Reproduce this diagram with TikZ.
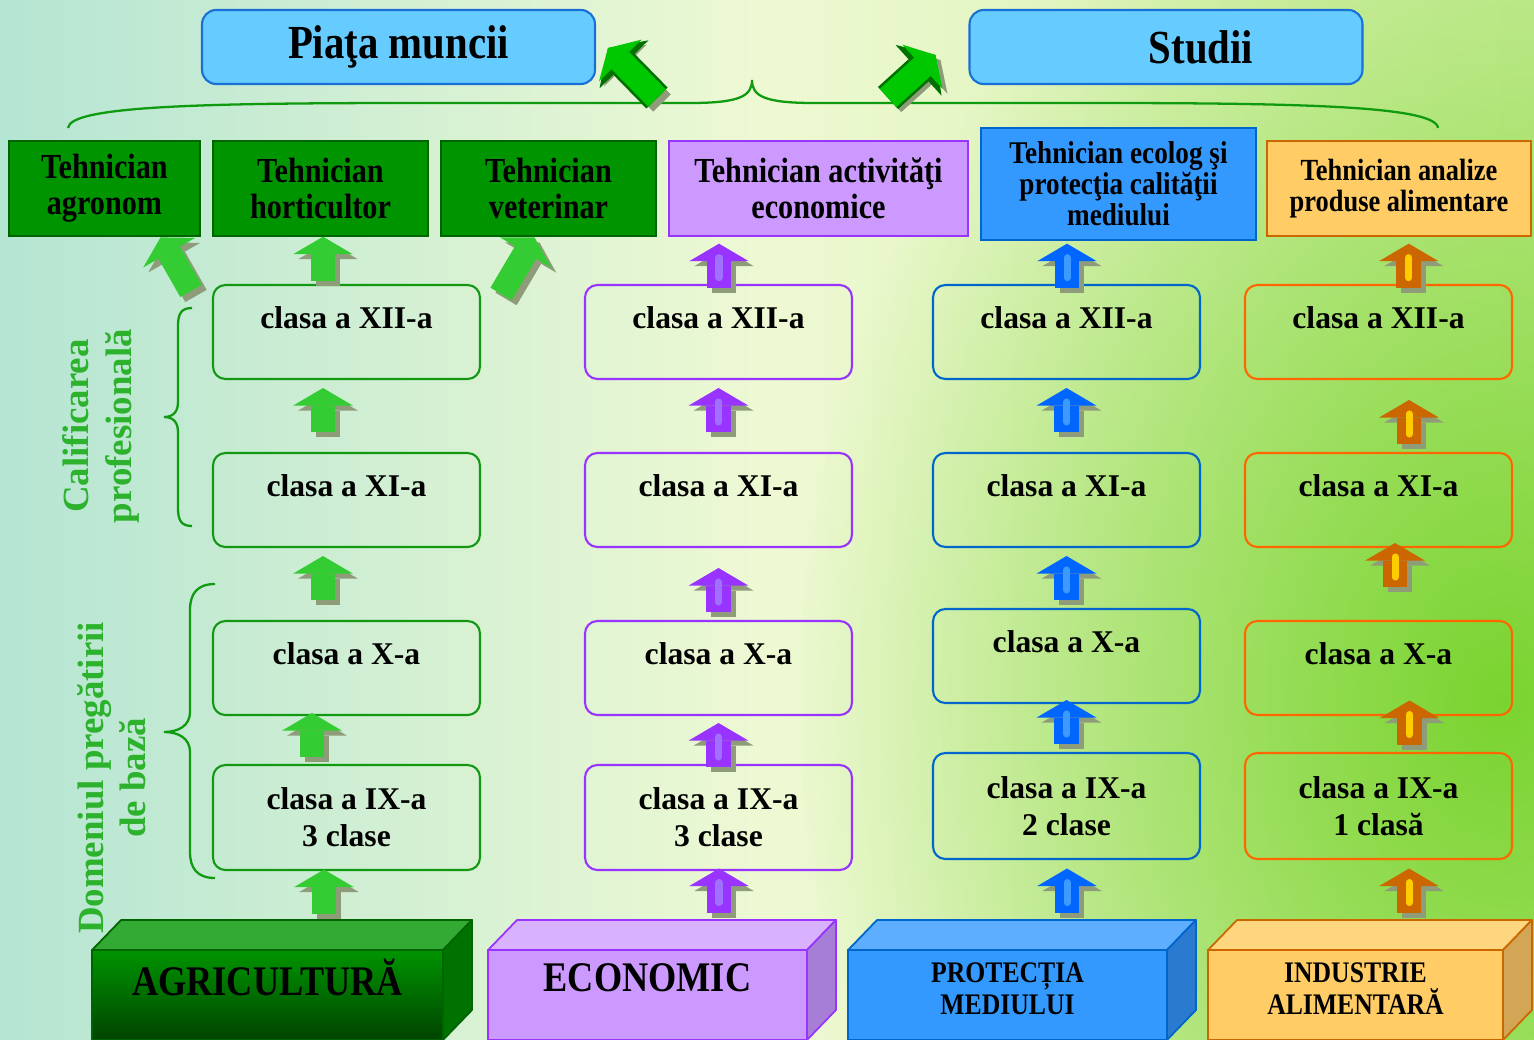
\documentclass[tikz,border=0pt]{standalone}
\usepackage{fontspec}
\setmainfont{Liberation Serif}
\newfontfamily\condfont{Liberation Serif}[FakeStretch=0.86]
\usetikzlibrary{arrows.meta,calc,fadings}

\definecolor{bgleft}{HTML}{B5E5D3}
\definecolor{bgmid}{HTML}{EEF9D3}
\definecolor{bgright}{HTML}{CDEE9F}
\definecolor{bggreen}{HTML}{7AD430}
\definecolor{skyblue}{HTML}{66CCFF}
\definecolor{boxblue}{HTML}{1A6FD6}
\definecolor{agrbox}{HTML}{009400}
\definecolor{agredge}{HTML}{006400}
\definecolor{agrline}{HTML}{119911}
\definecolor{agrarrow}{HTML}{33CC33}
\definecolor{agrhi}{HTML}{009400}
\definecolor{agrlo}{HTML}{004400}
\definecolor{agrtop}{HTML}{33AA33}
\definecolor{agrside}{HTML}{007200}
\definecolor{ecobox}{HTML}{CC99FF}
\definecolor{ecoedge}{HTML}{9933FF}
\definecolor{ecostripe}{HTML}{A070FF}
\definecolor{ecotop}{HTML}{D8B2FF}
\definecolor{ecoside}{HTML}{A77ED6}
\definecolor{envbox}{HTML}{3399FF}
\definecolor{envedge}{HTML}{0066CC}
\definecolor{envarrow}{HTML}{0066FF}
\definecolor{envstripe}{HTML}{3D9BFF}
\definecolor{envtop}{HTML}{5EAEFF}
\definecolor{envside}{HTML}{2A7BD0}
\definecolor{foodbox}{HTML}{FFCC66}
\definecolor{foodedge}{HTML}{CC6600}
\definecolor{foodline}{HTML}{FF6600}
\definecolor{foodarrow}{HTML}{CC6600}
\definecolor{foodstripe}{HTML}{FFCC00}
\definecolor{foodtop}{HTML}{FFD680}
\definecolor{foodside}{HTML}{D3A655}
\definecolor{lblgreen}{HTML}{2DB22D}
\definecolor{bracegreen}{HTML}{109A10}
\definecolor{linkgreen}{HTML}{00C800}
\definecolor{darkgreen}{HTML}{007000}
\definecolor{shadowgray}{HTML}{8F9C7A}

\tikzfading[name=glowfade, inner color=transparent!0, outer color=transparent!100]

% block arrow between two boxes: [shift]{lower}{upper}{colour}{stripe}
\newcommand\stepup[5][0,0]{%
  \coordinate (m) at ($(#2.north)!.5!(#3.south)+(#1)$);
  \draw[arrshadow] ($(m)+(5,27)$) -- ($(m)+(5,-17)$);
  \draw[blockarr,draw=#4] ($(m)+(0,22)$) -- ($(m)+(0,-22)$);
  \draw[line width=4pt,line cap=round,draw=#5] ($(m)+(0,12)$) -- ($(m)+(0,-8)$);}

% top and side faces of a sector block
\newcommand\prism[4]{%
  \filldraw[fill=#2,draw=#4,line width=1pt,line join=round] (#1.north west) -- ++(29,-30) -- ($(#1.north east)+(29,-30)$) -- (#1.north east) -- cycle;
  \filldraw[fill=#3,draw=#4,line width=1pt,line join=round] (#1.north east) -- ++(29,-30) -- ($(#1.south east)+(29,-30)$) -- (#1.south east) -- cycle;}

\begin{document}
\begin{tikzpicture}[x=0.02cm,y=-0.02cm]
  \tikzstyle{topbox}=[draw=boxblue,fill=skyblue,line width=1.2pt,rounded corners=8pt,minimum width=7.86cm,minimum height=1.48cm,font=\condfont\bfseries\fontsize{27}{30}\selectfont]
  \tikzstyle{job}=[draw,line width=1.6pt,align=center,minimum height=1.9cm,font=\condfont\bfseries\fontsize{20}{20.5}\selectfont]
  \tikzstyle{cls}=[draw,line width=1.2pt,rounded corners=7pt,align=center,minimum width=5.34cm,minimum height=1.88cm,font=\bfseries\fontsize{18}{21}\selectfont]
  \tikzstyle{one}=[text depth=16pt]
  \tikzstyle{sector}=[draw,line width=1pt,outer sep=0pt,inner sep=2pt,align=center,minimum height=1.8cm,font=\condfont\bfseries\fontsize{24}{26}\selectfont]
  \tikzstyle{small}=[font=\condfont\bfseries\fontsize{17}{18}\selectfont,text depth=7pt]
  \tikzstyle{side}=[rotate=90,align=center,text=lblgreen,font=\bfseries\fontsize{21}{24}\selectfont]
  \tikzstyle{brace}=[draw=bracegreen,line width=1.3pt]
  \tikzstyle{blockarr}=[line width=14pt,-{Triangle[width=34pt,length=10pt,line width=0pt]}]
  \tikzstyle{arrshadow}=[blockarr,draw=shadowgray]

  \useasboundingbox (0,0) rectangle (1534,1040);
  % background
  \shade[left color=bgleft,right color=bgright,middle color=bgmid] (0,0) rectangle (1534,1040);
  \fill[bggreen,path fading=glowfade] (1500,700) ellipse [x radius=14cm,y radius=18cm];

  % outcomes
  \node[topbox] (piata) at (398.5,47) {Piaţa muncii};
  \node[topbox] (studii) at (1166,47) {\hspace*{1.4cm}Studii};
  \draw[brace] (68,128) .. controls (70,106) and (200,103) .. (420,103) -- (690,103) .. controls (740,103) and (752,96) .. (752,80)
    .. controls (752,96) and (764,103) .. (814,103) -- (1090,103) .. controls (1300,103) and (1436,106) .. (1438,128);
  \coordinate (bl) at (657,98);
  \coordinate (br) at (888,98);
  \draw[arrshadow] ($(bl)+(5,5)$) -- ($(piata.east)+(17,6)$);
  \draw[blockarr,draw=darkgreen,line width=17pt,-{Triangle[width=39pt,length=13pt,line width=0pt]}] (bl) -- ($(piata.east)+(12,1)$);
  \draw[blockarr,draw=linkgreen] (bl) -- ($(piata.east)+(12,1)$);
  \draw[arrshadow] ($(br)+(5,5)$) -- ($(studii.west)+(-28,13)$);
  \draw[blockarr,draw=darkgreen,line width=17pt,-{Triangle[width=39pt,length=13pt,line width=0pt]}] (br) -- ($(studii.west)+(-33,8)$);
  \draw[blockarr,draw=linkgreen] (br) -- ($(studii.west)+(-33,8)$);

  % qualifications
  \node[job,fill=agrbox,draw=agredge,minimum width=3.82cm] (tagr) at (104.5,188.5) {Tehnician\\agronom};
  \node[job,fill=agrbox,draw=agredge,minimum width=4.3cm] (thort) at (320.5,188.5) {Tehnician\\horticultor};
  \node[job,fill=agrbox,draw=agredge,minimum width=4.3cm] (tvet) at (548.5,188.5) {Tehnician\\veterinar};
  \node[job,fill=ecobox,draw=ecoedge,minimum width=5.98cm] (teco) at (818.5,188.5) {Tehnician activităţi\\economice};
  \node[job,fill=envbox,draw=envedge,minimum width=5.5cm,minimum height=2.24cm,font=\condfont\bfseries\fontsize{18}{17.6}\selectfont] (tenv) at (1118.5,184) {Tehnician ecolog şi\\protecţia calităţii\\mediului};
  \node[job,fill=foodbox,draw=foodedge,minimum width=5.28cm,font=\condfont\bfseries\fontsize{17.5}{17.6}\selectfont] (tfood) at (1399,188.5) {Tehnician analize\\produse alimentare};

  % side labels
  \draw[brace] (192,308) .. controls (181,308) and (178,314) .. (178,326) -- (178,402) .. controls (178,412) and (173,417) .. (164,417)
    .. controls (173,417) and (178,422) .. (178,432) -- (178,508) .. controls (178,520) and (181,526) .. (192,526);
  \draw[brace] (215,584) .. controls (197,584) and (190,594) .. (190,610) -- (190,712) .. controls (190,726) and (178,732) .. (164,732)
    .. controls (178,732) and (190,738) .. (190,752) -- (190,852) .. controls (190,868) and (197,878) .. (215,878);
  \node[side] (calif) at (101,426) {Calificarea\\profesională};
  \node[side] (domen) at (112,778) {Domeniul pregătirii\\de bază};

  % classes
  \node[cls,draw=agrline,one] (c1xii) at (346.5,332) {clasa a XII-a};
  \node[cls,draw=agrline,one] (c1xi) at (346.5,500) {clasa a XI-a};
  \node[cls,draw=agrline,one] (c1x) at (346.5,668) {clasa a X-a};
  \node[cls,draw=agrline,minimum height=2.1cm] (c1ix) at (346.5,817.5) {clasa a IX-a\\3 clase};
  \node[cls,draw=ecoedge,one] (c2xii) at (718.5,332) {clasa a XII-a};
  \node[cls,draw=ecoedge,one] (c2xi) at (718.5,500) {clasa a XI-a};
  \node[cls,draw=ecoedge,one] (c2x) at (718.5,668) {clasa a X-a};
  \node[cls,draw=ecoedge,minimum height=2.1cm] (c2ix) at (718.5,817.5) {clasa a IX-a\\3 clase};
  \node[cls,draw=envedge,one] (c3xii) at (1066.5,332) {clasa a XII-a};
  \node[cls,draw=envedge,one] (c3xi) at (1066.5,500) {clasa a XI-a};
  \node[cls,draw=envedge,one] (c3x) at (1066.5,656) {clasa a X-a};
  \node[cls,draw=envedge,minimum height=2.12cm] (c3ix) at (1066.5,806) {clasa a IX-a\\2 clase};
  \node[cls,draw=foodline,one] (c4xii) at (1378.5,332) {clasa a XII-a};
  \node[cls,draw=foodline,one] (c4xi) at (1378.5,500) {clasa a XI-a};
  \node[cls,draw=foodline,one] (c4x) at (1378.5,668) {clasa a X-a};
  \node[cls,draw=foodline,minimum height=2.12cm] (c4ix) at (1378.5,806) {clasa a IX-a\\1 clasă};

  % sectors
  \node[sector,top color=agrhi,bottom color=agrlo,draw=agredge,minimum width=7.02cm,text depth=20pt] (agr) at (267.5,995) {AGRICULTURĂ};
  \node[sector,fill=ecobox,draw=ecoedge,minimum width=6.38cm,text depth=20pt] (eco) at (647.5,995) {ECONOMIC};
  \node[sector,small,fill=envbox,draw=envedge,minimum width=6.38cm] (env) at (1007.5,995) {PROTECȚIA\\MEDIULUI};
  \node[sector,small,fill=foodbox,draw=foodedge,minimum width=5.9cm] (food) at (1355.5,995) {INDUSTRIE\\ALIMENTARĂ};
  \prism{agr}{agrtop}{agrside}{agredge}
  \prism{eco}{ecotop}{ecoside}{ecoedge}
  \prism{env}{envtop}{envside}{envedge}
  \prism{food}{foodtop}{foodside}{foodedge}

  % progression arrows
  \stepup[17,-19]{agr}{c1ix}{agrarrow}{agrarrow}
  \stepup[-34.5,-5]{c1ix}{c1x}{agrarrow}{agrarrow}
  \stepup[-23.5,-6]{c1x}{c1xi}{agrarrow}{agrarrow}
  \stepup[-23.5,-6]{c1xi}{c1xii}{agrarrow}{agrarrow}
  \stepup[-10.5,-2]{c1xii}{thort}{agrarrow}{agrarrow}
  \draw[arrshadow] ($(c1xii.north west)+(-16,12)$) -- ($(tagr.south)+(61,5)$);
  \draw[blockarr,draw=agrarrow] ($(c1xii.north west)+(-21,7)$) -- ($(tagr.south)+(56,0)$);
  \draw[arrshadow] ($(c1xii.north east)+(25,15)$) -- ($(tvet.south)+(-9,5)$);
  \draw[blockarr,draw=agrarrow] ($(c1xii.north east)+(20,10)$) -- ($(tvet.south)+(-14,0)$);

  \stepup[36,-20]{eco}{c2ix}{ecoedge}{ecostripe}
  \stepup[0,5]{c2ix}{c2x}{ecoedge}{ecostripe}
  \stepup[0,6]{c2x}{c2xi}{ecoedge}{ecostripe}
  \stepup[0,-6]{c2xi}{c2xii}{ecoedge}{ecostripe}
  \stepup[-49.5,5]{c2xii}{teco}{ecoedge}{ecostripe}

  \stepup[30,-14.5]{env}{c3ix}{envarrow}{envstripe}
  \stepup[0,-6]{c3ix}{c3x}{envarrow}{envstripe}
  \stepup[0,0]{c3x}{c3xi}{envarrow}{envstripe}
  \stepup[0,-6]{c3xi}{c3xii}{envarrow}{envstripe}
  \stepup[-25.5,3]{c3xii}{tenv}{envarrow}{envstripe}

  \stepup[42,-14.5]{food}{c4ix}{foodarrow}{foodstripe}
  \stepup[31,-11.5]{c4ix}{c4x}{foodarrow}{foodstripe}
  \stepup[16.5,-19]{c4x}{c4xi}{foodarrow}{foodstripe}
  \stepup[30.5,6]{c4xi}{c4xii}{foodarrow}{foodstripe}
  \stepup[20,5]{c4xii}{tfood}{foodarrow}{foodstripe}
\end{tikzpicture}
\end{document}
